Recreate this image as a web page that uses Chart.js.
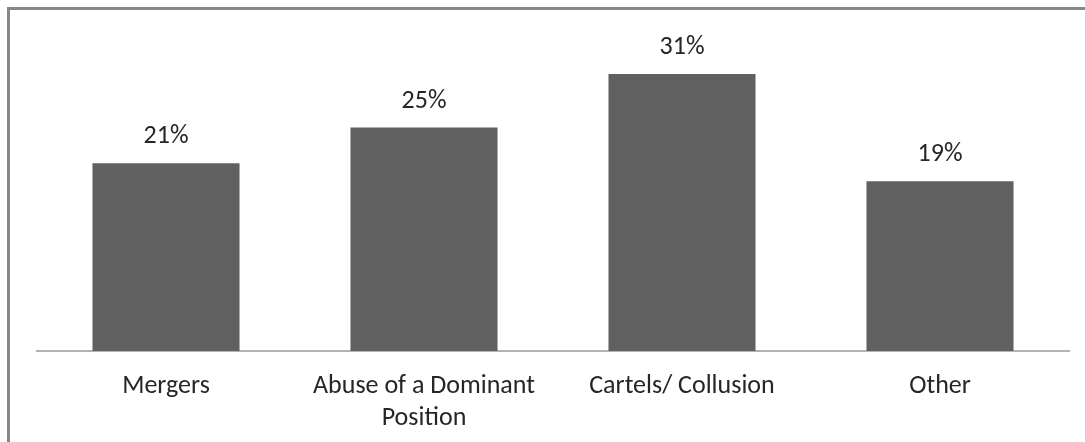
<!DOCTYPE html>
<html>
<head>
<meta charset="utf-8">
<script src="https://cdn.jsdelivr.net/npm/chart.js@4.4.1/dist/chart.umd.min.js"></script>
<style>
  html, body { margin: 0; padding: 0; background: #fff; overflow: hidden; }
</style>
</head>
<body>
<canvas id="myChart" width="1085" height="442"></canvas>
<script>
const categories = ["Mergers", ["Abuse of a Dominant", "Position"], "Cartels/ Collusion", "Other"];
const shares = [21, 25, 31, 19];
const barColor = "#606060";
const fontFamily = "Carlito, Lato, 'Open Sans', sans-serif";

// outer frame: only the top and left edges are in view
const frame = {
  id: "frame",
  beforeDraw(chart) {
    const ctx = chart.ctx;
    ctx.save();
    ctx.strokeStyle = "#878787";
    ctx.lineWidth = 3;
    ctx.beginPath();
    ctx.moveTo(8.5, chart.height);
    ctx.lineTo(8.5, 8.5);
    ctx.lineTo(chart.width, 8.5);
    ctx.stroke();
    ctx.restore();
  }
};

// percent labels above the bars
const valueLabels = {
  id: "valueLabels",
  afterDatasetsDraw(chart) {
    const ctx = chart.ctx;
    const meta = chart.getDatasetMeta(0);
    ctx.save();
    ctx.font = "26px " + fontFamily;
    ctx.fillStyle = "#262626";
    ctx.textAlign = "center";
    ctx.textBaseline = "alphabetic";
    meta.data.forEach((bar, i) => {
      ctx.fillText(shares[i] + "%", bar.x, bar.y - 20);
    });
    ctx.restore();
  }
};

new Chart("myChart", {
  type: "bar",
  data: {
    labels: categories,
    datasets: [{
      data: shares,
      backgroundColor: barColor,
      barPercentage: 0.57,
      categoryPercentage: 1
    }]
  },
  plugins: [frame, valueLabels],
  options: {
    responsive: false,
    animation: false,
    layout: { padding: { left: 37, right: 16, top: 0, bottom: 0 } },
    plugins: { legend: { display: false }, tooltip: { enabled: false } },
    scales: {
      x: {
        grid: { display: false },
        border: { color: "#b3b3b3", width: 2 },
        ticks: {
          color: "#262626",
          padding: 12,
          maxRotation: 0,
          font: { family: fontFamily, size: 26, lineHeight: 1.23 }
        },
        afterFit: (scale) => { scale.height = 91; }
      },
      y: {
        display: false,
        min: 0,
        max: 31 * 351 / 277 - 0.0001,
        afterFit: (scale) => { scale.width = 0; }
      }
    }
  }
});
</script>
</body>
</html>
